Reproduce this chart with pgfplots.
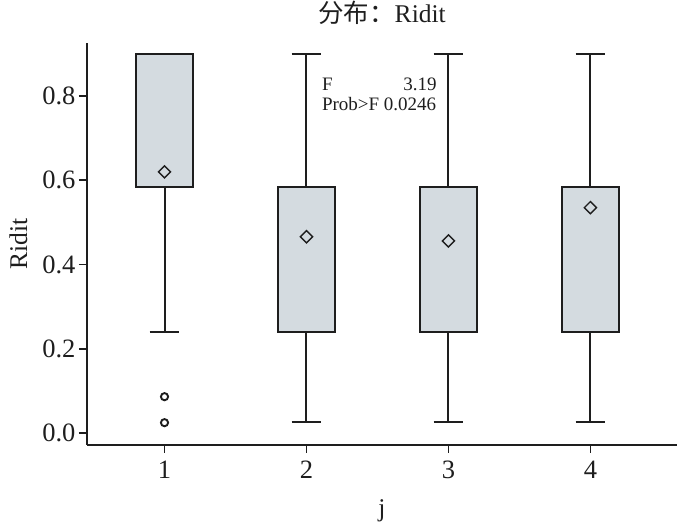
\documentclass[border=0pt]{standalone}
\usepackage{fontspec}
\setmainfont{Liberation Serif}
\newfontfamily\cjk{Noto Sans CJK SC}
\usepackage{pgfplots}
\pgfplotsset{compat=1.18}
\usepgfplotslibrary{statistics}
\definecolor{boxfill}{RGB}{212,219,224}
\definecolor{edge}{RGB}{30,30,30}
\definecolor{txt}{RGB}{30,30,30}
\begin{document}
\begin{tikzpicture}
\begin{axis}[
  name=ax,
  scale only axis,
  width=590pt, height=402pt,
  xmin=0.454, xmax=4.61,
  ymin=-0.0285, ymax=0.926,
  axis lines*=left,
  axis line style={line width=2.2pt, color=edge},
  xtick={1,2,3,4},
  ytick={0,0.2,0.4,0.6,0.8},
  tick align=outside,
  major tick length=8pt,
  tick style={line width=1.6pt, color=edge},
  /pgf/number format/assume math mode=true,
  yticklabel style={/pgf/number format/fixed, /pgf/number format/fixed zerofill, /pgf/number format/precision=1},
  tick label style={font=\fontsize{26.5}{30}\selectfont, color=txt},
  xticklabel style={anchor=base, yshift=-25pt},
  title={{\cjk 分布：}Ridit},
  title style={font=\fontsize{25.5}{30}\selectfont, color=txt, at={(rel axis cs:0.5,1)}, anchor=base, yshift=14pt},
  xlabel={j},
  xlabel style={font=\fontsize{25.5}{30}\selectfont, color=txt, at={(rel axis cs:0.5,0)}, anchor=base, yshift=-71pt},
  ylabel={Ridit},
  ylabel style={font=\fontsize{25.5}{30}\selectfont, color=txt, at={(rel axis cs:-0.1161,0.5)}, anchor=center},
  boxplot/draw direction=y,
  boxplot/every box/.style={draw=edge, fill=boxfill, line width=2.3pt},
  boxplot/every whisker/.style={draw=edge, line width=2pt},
  boxplot/every median/.style={draw=edge, line width=2.3pt},
  clip=false,
]
\addplot[draw=edge, line width=2pt, boxplot prepared={draw position=1, lower whisker=0.2405, lower quartile=0.5835, median=0.9, upper quartile=0.9, upper whisker=0.9, box extend=0.4, whisker extend=0.21}] coordinates {};
\addplot[draw=edge, line width=2pt, boxplot prepared={draw position=2, lower whisker=0.026, lower quartile=0.2405, median=0.5835, upper quartile=0.5835, upper whisker=0.9, box extend=0.4, whisker extend=0.21}] coordinates {};
\addplot[draw=edge, line width=2pt, boxplot prepared={draw position=3, lower whisker=0.026, lower quartile=0.2405, median=0.5835, upper quartile=0.5835, upper whisker=0.9, box extend=0.4, whisker extend=0.21}] coordinates {};
\addplot[draw=edge, line width=2pt, boxplot prepared={draw position=4, lower whisker=0.026, lower quartile=0.2405, median=0.5835, upper quartile=0.5835, upper whisker=0.9, box extend=0.4, whisker extend=0.21}] coordinates {};
\addplot[only marks, mark=square, mark size=4.3pt, mark options={rotate=45, line width=1.4pt, draw=edge, fill=boxfill}] coordinates {(1,0.620) (2,0.466) (3,0.456) (4,0.535)};
\addplot[only marks, mark=o, mark size=3.6pt, mark options={line width=1.9pt, draw=edge}] coordinates {(1,0.0862) (1,0.0245)};
\node[anchor=base west, font=\fontsize{19}{22}\selectfont, color=txt, inner sep=0pt] at (rel axis cs:0.398,0.883) {F};
\node[anchor=base east, font=\fontsize{19}{22}\selectfont, color=txt, inner sep=0pt] at (rel axis cs:0.593,0.883) {3.19};
\node[anchor=base west, font=\fontsize{19}{22}\selectfont, color=txt, inner sep=0pt] at (rel axis cs:0.398,0.833) {Prob>F 0.0246};
\end{axis}
\pgfresetboundingbox
\path[use as bounding box] ([shift={(-87pt,-81pt)}]ax.south west) rectangle ([shift={(23pt,43pt)}]ax.north east);
\end{tikzpicture}
\end{document}
